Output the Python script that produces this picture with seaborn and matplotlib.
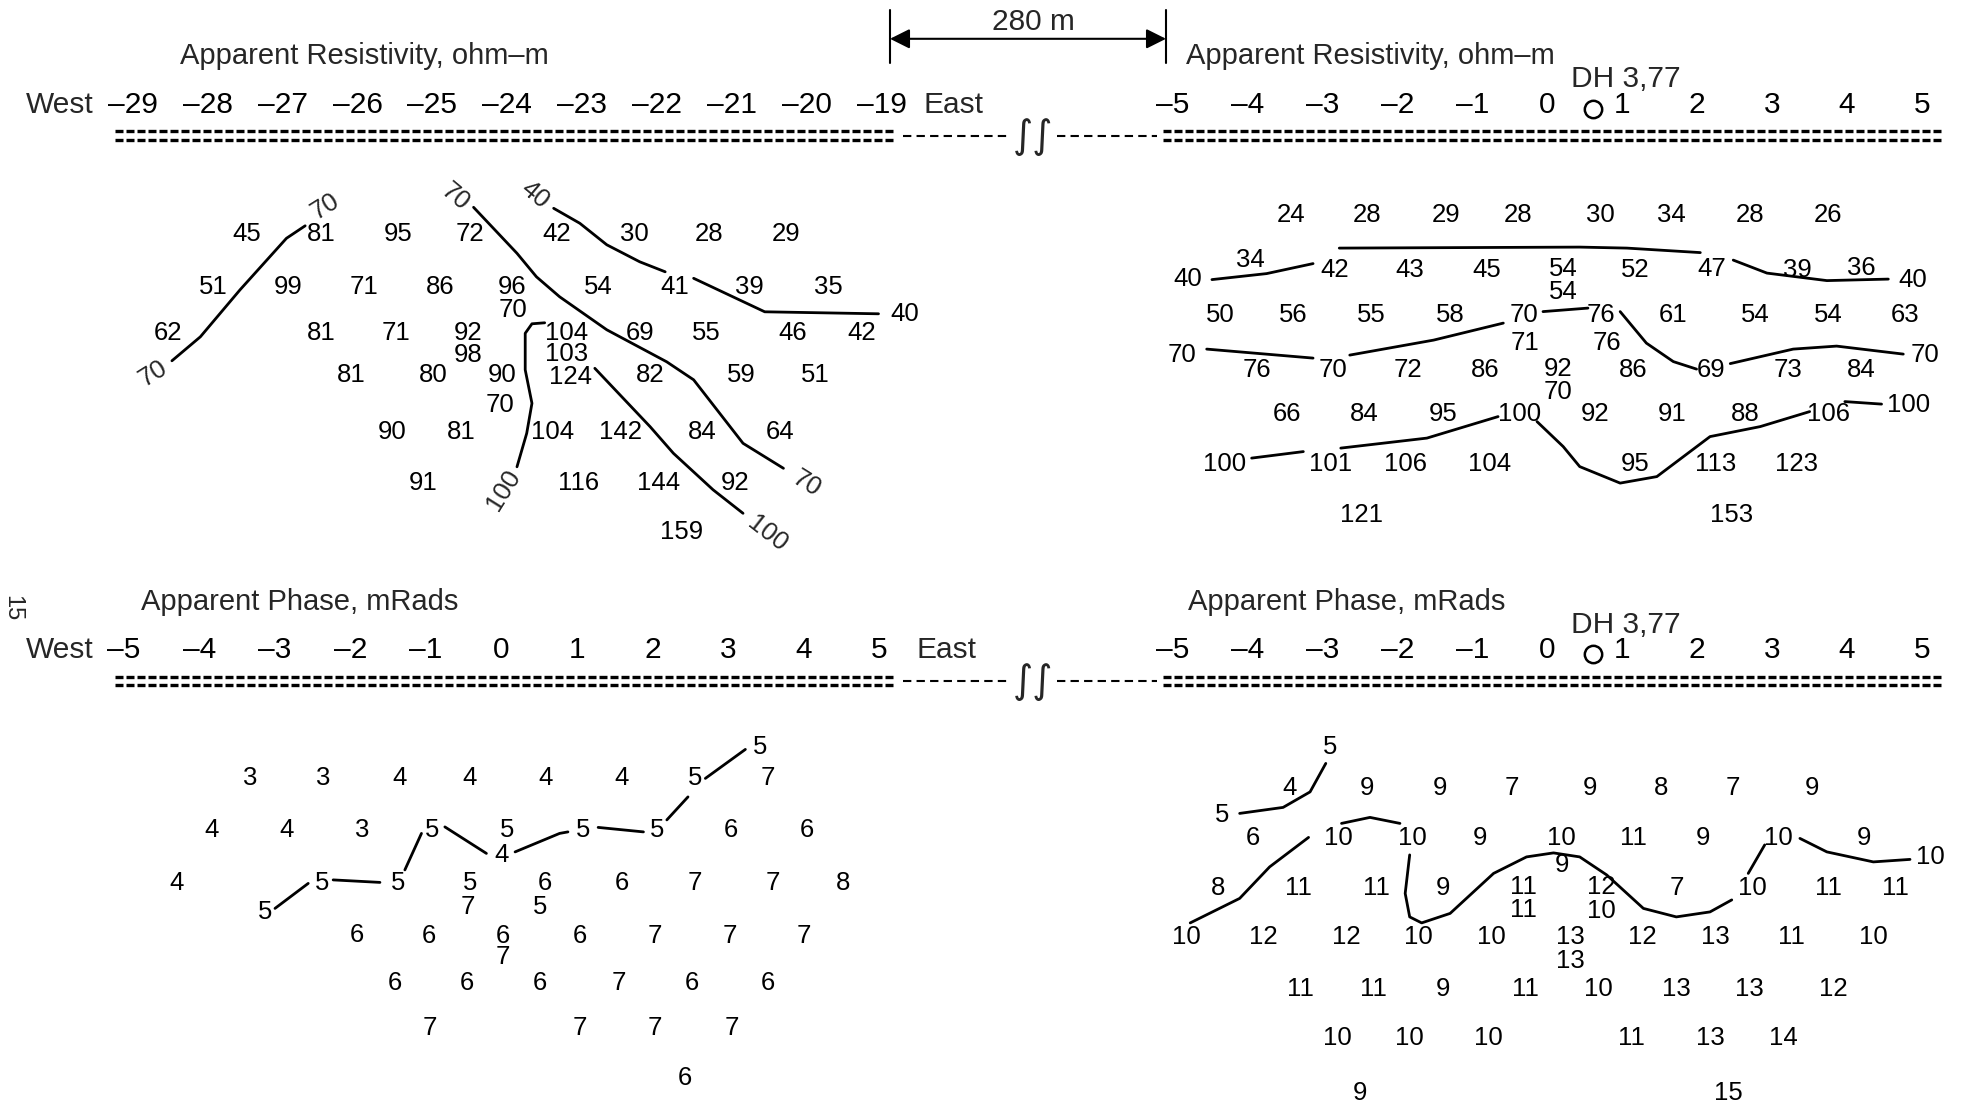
import matplotlib
matplotlib.use("Agg")
import matplotlib.pyplot as plt
import matplotlib.transforms as mtransforms
import seaborn as sns

W, H = 1961, 1108

# ---------------- data: apparent resistivity, west line ----------------
rho_w_vals = ["45", "81", "95", "72", "42", "30", "28", "29",
              "51", "99", "71", "86", "96", "54", "41", "39", "35", "70",
              "62", "81", "71", "92", "104", "69", "55", "46", "42", "40", "98", "103",
              "81", "80", "90", "124", "82", "59", "51", "70",
              "90", "81", "104", "142", "84", "64",
              "91", "116", "144", "92",
              "159"]
rho_w_x = [-27.48, -26.48, -25.46, -24.50, -23.34, -22.30, -21.31, -20.28,
           -27.93, -26.93, -25.92, -24.90, -23.94, -22.79, -21.76, -20.76, -19.71, -23.92,
           -28.53, -26.48, -25.48, -24.52, -23.21, -22.23, -21.34, -20.18, -19.26, -18.69, -24.52, -23.21,
           -26.08, -24.99, -24.07, -23.16, -22.09, -20.87, -19.89, -24.10,
           -25.54, -24.61, -23.39, -22.49, -21.40, -20.36,
           -25.12, -23.05, -21.98, -20.96,
           -21.67]
rho_w_n = [1.0] * 8 + [2.06] * 9 + [2.52] + [2.98] * 9 + [2.60, 3.42, 3.40] \
    + [3.82, 3.82, 3.82, 3.86, 3.82, 3.82, 3.82] + [4.42] + [4.96] * 6 + [5.98] * 4 + [6.96]

rho_w_labels = ["70", "70", "70", "40", "100", "70", "100"]
rho_w_label_x = [-26.43, -28.73, -24.70, -23.63, -24.05, -20.00, -20.53]
rho_w_label_n = [0.46, 3.79, 0.26, 0.22, 6.12, 5.99, 6.99]
rho_w_label_rot = [32, 32, -40, -40, 58, -32, -38]

rho_w_lines = [
    ([-28.48, -28.10, -27.57, -26.95, -26.70], [3.54, 3.06, 2.12, 1.09, 0.84]),
    ([-24.45, -23.87, -23.61, -23.30, -22.67, -21.87, -21.51, -20.85, -20.31],
     [0.47, 1.39, 1.86, 2.26, 2.92, 3.56, 3.92, 5.19, 5.69]),
    ([-23.38, -23.03, -22.67, -22.23, -21.89], [0.49, 0.79, 1.22, 1.56, 1.76]),
    ([-21.51, -20.56, -19.04], [1.89, 2.56, 2.60]),
    ([-23.87, -23.74, -23.67, -23.76, -23.76, -23.67, -23.50],
     [5.66, 4.99, 4.39, 3.72, 2.99, 2.80, 2.78]),
    ([-22.83, -22.09, -21.78, -21.25, -20.85], [3.69, 4.86, 5.39, 6.12, 6.59]),
]

# ---------------- data: apparent resistivity, east line ----------------
rho_e_vals = ["24", "28", "29", "28", "30", "34", "28", "26",
              "40", "34", "42", "43", "45", "54", "54", "52", "47", "39", "36", "40",
              "50", "56", "55", "58", "70", "76", "61", "54", "54", "63",
              "71", "76",
              "70", "76", "70", "72", "86", "92", "70", "86", "69", "73", "84", "70",
              "66", "84", "95", "100", "92", "91", "88", "106", "100",
              "100", "101", "106", "104", "95", "113", "123",
              "121", "153"]
rho_e_x = [-3.42, -2.41, -1.36, -0.39, 0.70, 1.66, 2.70, 3.75,
           -4.80, -3.97, -2.84, -1.84, -0.81, 0.21, 0.21, 1.17, 2.19, 3.33, 4.19, 4.88,
           -4.37, -3.39, -2.35, -1.30, -0.32, 0.72, 1.68, 2.77, 3.75, 4.77,
           -0.30, 0.79,
           -4.88, -3.88, -2.86, -1.86, -0.83, 0.14, 0.14, 1.15, 2.19, 3.21, 4.19, 5.04,
           -3.48, -2.44, -1.39, -0.37, 0.63, 1.66, 2.64, 3.75, 4.82,
           -4.31, -2.90, -1.90, -0.77, 1.17, 2.24, 3.33,
           -2.48, 2.46]
rho_e_n = [1.0] * 8 \
    + [2.27, 1.90, 2.10, 2.10, 2.10, 2.08, 2.53, 2.09, 2.07, 2.10, 2.05, 2.29] \
    + [3.0] * 10 + [3.56, 3.56] \
    + [3.80, 4.1, 4.1, 4.1, 4.1, 4.08, 4.53, 4.1, 4.1, 4.1, 4.1, 3.80] \
    + [4.97] * 8 + [4.80] + [5.97] * 7 + [7.0, 7.0]

rho_e_lines = [
    ([-4.48, -3.75, -3.13], [2.29, 2.17, 1.97]),
    ([-2.78, 0.43, 1.06, 2.04], [1.66, 1.64, 1.66, 1.75]),
    ([2.48, 2.93, 3.73, 4.55], [1.90, 2.16, 2.31, 2.28]),
    ([-4.55, -3.13], [3.68, 3.86]),
    ([-2.64, -1.52, -0.59], [3.80, 3.50, 3.16]),
    ([-0.06, 0.54], [2.93, 2.86]),
    ([0.97, 1.32, 1.68, 1.99], [2.93, 3.56, 3.93, 4.08]),
    ([2.44, 3.28, 3.86, 4.75], [3.97, 3.68, 3.62, 3.78]),
    ([-3.95, -3.26], [5.86, 5.73]),
    ([-2.76, -1.61, -0.66], [5.66, 5.46, 5.03]),
    ([-0.14, 0.21, 0.43, 0.97, 1.46, 2.17, 2.84, 3.50],
     [5.13, 5.63, 6.03, 6.36, 6.23, 5.43, 5.23, 4.93]),
    ([3.97, 4.46], [4.73, 4.78]),
]

# ---------------- data: apparent phase, west line ----------------
phase_w_vals = ["3", "3", "4", "4", "4", "4", "5", "7", "5",
                "4", "4", "3", "5", "5", "5", "5", "6", "6", "4",
                "4", "5", "5", "5", "6", "6", "7", "7", "8", "7", "5", "5",
                "6", "6", "6", "6", "7", "7", "7", "7",
                "6", "6", "6", "7", "6", "6",
                "7", "7", "7", "7",
                "6"]
phase_w_x = [-3.33, -2.36, -1.35, -0.42, 0.58, 1.59, 2.56, 3.53, 3.42,
             -3.84, -2.85, -1.85, -0.92, 0.07, 1.08, 2.06, 3.04, 4.04, 0.00,
             -4.30, -2.37, -1.37, -0.42, 0.58, 1.59, 2.56, 3.60, 4.53, -0.44, 0.51, -3.13,
             -1.92, -0.96, 0.02, 1.04, 2.03, 3.03, 4.00, 0.02,
             -1.41, -0.46, 0.51, 1.55, 2.52, 3.53,
             -0.95, 1.04, 2.03, 3.05,
             2.43]
phase_w_n = [1.01] * 8 + [0.38] + [2.04] * 9 + [2.54] + [3.11] * 9 + [3.58, 3.58, 3.68] \
    + [4.14] + [4.16] * 6 + [4.58] + [5.11] * 6 + [6.01] * 4 + [7.01]

phase_w_lines = [
    ([-3.00, -2.56], [3.61, 3.11]),
    ([-2.23, -1.61], [3.04, 3.09]),
    ([-1.28, -1.06], [2.84, 2.11]),
    ([-0.75, -0.20], [1.98, 2.51]),
    ([0.18, 0.77, 0.88], [2.48, 2.11, 2.08]),
    ([1.28, 1.88], [1.99, 2.08]),
    ([2.19, 2.47], [1.84, 1.38]),
    ([2.70, 3.23], [1.01, 0.43]),
]

# ---------------- data: apparent phase, east line ----------------
phase_e_vals = ["5", "4", "5", "9", "9", "7", "9", "8", "7", "9",
                "6", "10", "10", "9", "10", "11", "9", "10", "9", "9", "10",
                "8", "11", "11", "9", "11", "12", "7", "10", "11", "11", "11", "10",
                "10", "12", "12", "10", "10", "13", "12", "13", "11", "10", "13",
                "11", "11", "9", "11", "10", "13", "13", "12",
                "10", "10", "10", "11", "13", "14",
                "9", "15"]
phase_e_x = [-2.90, -3.44, -4.35, -2.41, -1.44, -0.48, 0.57, 1.52, 2.48, 3.53,
             -3.93, -2.79, -1.81, -0.90, 0.19, 1.15, 2.08, 3.08, 4.22, 0.19, 5.11,
             -4.40, -3.33, -2.28, -1.39, -0.32, 0.72, 1.72, 2.73, 3.75, 4.64, -0.32, 0.72,
             -4.82, -3.79, -2.68, -1.72, -0.75, 0.30, 1.26, 2.24, 3.26, 4.35, 0.30,
             -3.30, -2.33, -1.39, -0.30, 0.68, 1.72, 2.70, 3.82,
             -2.81, -1.84, -0.79, 1.12, 2.17, 3.15,
             -2.50, 2.41]
phase_e_n = [0.18, 1.01, 1.54] + [1.01] * 7 \
    + [2.01] * 9 + [2.54, 2.38] \
    + [3.01, 3.01, 3.01, 3.01, 2.99, 2.99, 3.01, 3.01, 3.01, 3.01] + [3.44, 3.46] \
    + [3.99] * 10 + [4.46] \
    + [5.03] * 8 + [6.01] * 6 + [7.11, 7.11]

phase_e_lines = [
    ([-4.11, -3.53, -3.17, -2.96], [1.51, 1.39, 1.08, 0.51]),
    ([-2.75, -2.37, -1.97], [1.71, 1.59, 1.71]),
    ([-4.77, -4.11, -3.71, -3.19], [3.70, 3.21, 2.58, 1.99]),
    ([-1.84, -1.90, -1.84, -1.68, -1.30, -0.72, -0.28, 0.08, 0.43, 0.79, 1.28, 1.72, 2.17, 2.46],
     [2.34, 3.11, 3.58, 3.70, 3.51, 2.71, 2.38, 2.30, 2.38, 2.74, 3.41, 3.58, 3.48, 3.24]),
    ([2.68, 2.90], [2.71, 2.14]),
    ([3.37, 3.73, 4.35, 4.84], [2.01, 2.28, 2.48, 2.43]),
]

west_stations = list(range(-29, -18))
east_stations = list(range(-5, 6))
phase_west_stations = list(range(-5, 6))
dh_station = 0.61


def station_label(s):
    return ("\u2013" + str(-s)) if s < 0 else str(s)


sns.set_theme(style="white")
plt.rcParams["font.family"] = ["Liberation Sans", "DejaVu Sans"]

fig = plt.figure(figsize=(W / 100, H / 100), dpi=100)
fig.patch.set_facecolor("white")

# overlay in pixel units for the page furniture
ov = fig.add_axes([0, 0, 1, 1])
ov.set_xlim(0, W)
ov.set_ylim(H, 0)
ov.axis("off")
ov.patch.set_alpha(0)


def panel_axes(px0, s0, ppu, py0, ppv=50.0):
    ax = fig.add_axes([0, 0, 1, 1])
    ax.axis("off")
    ax.patch.set_alpha(0)
    lims = ((s0 - px0 / ppu, s0 + (W - px0) / ppu), ((H - py0) / ppv, -py0 / ppv))
    return ax, lims


def draw_panel(ax, lims, vals, xs, ns, lines, fs=18.5):
    for v, x, n in zip(vals, xs, ns):
        ax.text(x, n, v, ha="center", va="center", fontsize=fs, color="black")
    for lx, ln in lines:
        sns.lineplot(x=lx, y=ln, ax=ax, sort=False, estimator=None,
                     color="black", lw=2.0)
    ax.set_xlim(*lims[0])
    ax.set_ylim(*lims[1])
    ax.axis("off")


def station_row(ax, stations, y_px, fs=21.5):
    tr = mtransforms.blended_transform_factory(ax.transData, fig.transFigure)
    for s in stations:
        ax.text(s, 1 - y_px / H, station_label(s), transform=tr,
                ha="center", va="center", fontsize=fs, color="black")


ax_tl, lim_tl = panel_axes(133.0, -29, 74.85, 183.8)
ax_tr, lim_tr = panel_axes(1173.0, -5, 74.9, 165.1)
ax_bl, lim_bl = panel_axes(124.0, -5, 75.5, 727.9)
ax_br, lim_br = panel_axes(1173.0, -5, 74.9, 737.9)

draw_panel(ax_tl, lim_tl, rho_w_vals, rho_w_x, rho_w_n, rho_w_lines)
for t, x, n, r in zip(rho_w_labels, rho_w_label_x, rho_w_label_n, rho_w_label_rot):
    ax_tl.text(x, n, t, ha="center", va="center", fontsize=18.5, rotation=r)
draw_panel(ax_tr, lim_tr, rho_e_vals, rho_e_x, rho_e_n, rho_e_lines)
draw_panel(ax_bl, lim_bl, phase_w_vals, phase_w_x, phase_w_n, phase_w_lines)
draw_panel(ax_br, lim_br, phase_e_vals, phase_e_x, phase_e_n, phase_e_lines)

station_row(ax_tl, west_stations, 105)
station_row(ax_tr, east_stations, 105)
station_row(ax_bl, phase_west_stations, 650)
station_row(ax_br, east_stations, 650)

# drill hole marker
for ax, yc, yt in [(ax_tr, 108.8, 78.8), (ax_br, 654.0, 625.3)]:
    tr = mtransforms.blended_transform_factory(ax.transData, fig.transFigure)
    ax.plot([dh_station], [1 - yc / H], marker="o", ms=12.5, mfc="none",
            mec="black", mew=1.8, transform=tr, clip_on=False)
    ov.text(1625.8, yt, "DH 3,77", ha="center", va="center", fontsize=21.5)

# titles and West / East
ov.text(364.6, 56.3, "Apparent Resistivity, ohm\u2013m", ha="center", va="center", fontsize=21)
ov.text(1370, 56.3, "Apparent Resistivity, ohm\u2013m", ha="center", va="center", fontsize=21)
ov.text(300.1, 601.5, "Apparent Phase, mRads", ha="center", va="center", fontsize=21)
ov.text(1347, 601.5, "Apparent Phase, mRads", ha="center", va="center", fontsize=21)
for y in (105, 650):
    ov.text(60, y, "West", ha="center", va="center", fontsize=21.5)
ov.text(954, 105, "East", ha="center", va="center", fontsize=21.5)
ov.text(946.7, 650, "East", ha="center", va="center", fontsize=21.5)
ov.text(12.5, 607.8, "15", ha="center", va="center", fontsize=17, rotation=-90)

# survey lines with break
for yb in (131.3, 676.6):
    for dy in (0, 8.8):
        ov.plot([115, 894], [yb + dy, yb + dy], color="black", lw=2.4, ls=(0, (2.4, 0.9)))
        ov.plot([1163, 1942], [yb + dy, yb + dy], color="black", lw=2.4, ls=(0, (2.4, 0.9)))
    ym = yb + 4.4
    ov.plot([903, 1010], [ym, ym], color="black", lw=1.5, ls=(0, (4, 2.5)))
    ov.plot([1057, 1157], [ym, ym], color="black", lw=1.5, ls=(0, (4, 2.5)))
    ov.text(1033, ym + 1, "\u222b\u222b", ha="center", va="center", fontsize=28,
            family="DejaVu Sans")

# 280 m scale
ov.plot([890, 890], [10, 63], color="black", lw=1.5)
ov.plot([1166, 1166], [10, 63], color="black", lw=1.5)
ov.annotate("", xy=(890, 38.8), xytext=(1166, 38.8),
            arrowprops=dict(arrowstyle="<|-|>", color="black", lw=1.5,
                            mutation_scale=30, shrinkA=0, shrinkB=0))
ov.text(1033, 22.5, "280 m", ha="center", va="center", fontsize=21.5)

fig.savefig("out.png", dpi=100, facecolor="white")
